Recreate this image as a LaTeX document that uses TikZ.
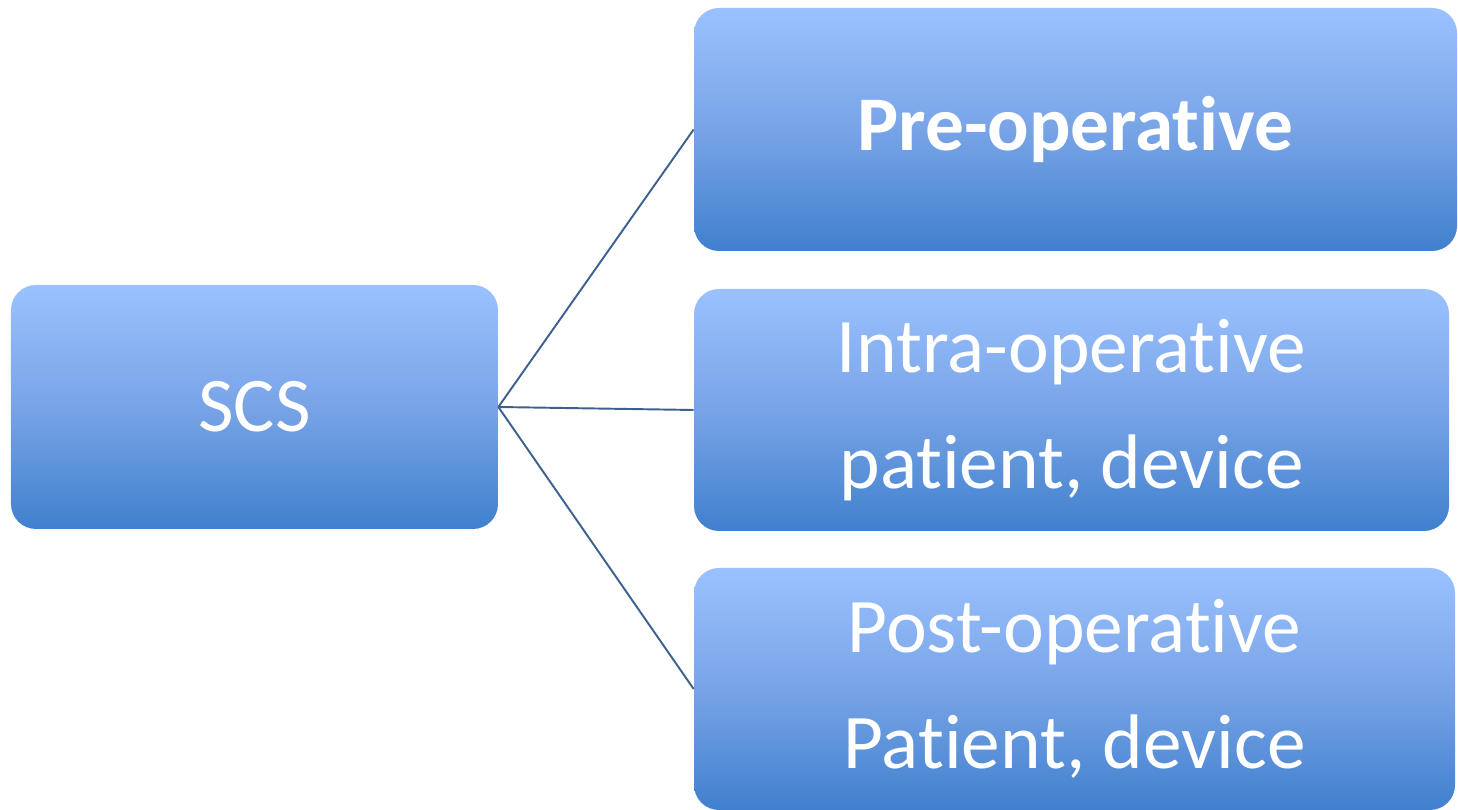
\documentclass[tikz,border=0pt]{standalone}
\usepackage{fontspec}
\setmainfont{Carlito}[Ligatures=NoCommon]
\usepackage{tikz}
\usetikzlibrary{positioning,calc}

\definecolor{boxtop}{RGB}{155,193,255}
\definecolor{boxmid}{RGB}{120,164,230}
\definecolor{boxbottom}{RGB}{64,128,206}
\definecolor{linkblue}{RGB}{62,96,145}

\begin{document}
\begin{tikzpicture}[
    phase/.style={rectangle, rounded corners=0.5cm, top color=boxtop, bottom color=boxbottom,
        middle color=boxmid, text=white, align=center, inner sep=0pt, font=\fontsize{44}{66}\selectfont},
    link/.style={draw, color=linkblue, line width=1.1pt}
]

\useasboundingbox (0,0) rectangle (29.16,16.2);

% Define node positions
\node[phase, minimum width=9.74cm, minimum height=4.88cm] (scs) at (5.09, 8.06) {SCS};
\node[phase, minimum width=15.26cm, minimum height=4.86cm] (pre) at (21.51, 13.61) {\bfseries Pre-operative};
\node[phase, minimum width=15.10cm, minimum height=4.84cm] (intra) at (21.43, 8.0) {Intra-operative\\patient, device};
\node[phase, minimum width=15.22cm, minimum height=4.84cm] (post) at (21.49, 2.42) {Post-operative\\Patient, device};

% Connect root to phases
\draw[link] (scs.east) -- (pre.west);
\draw[link] (scs.east) -- (intra.west);
\draw[link] (scs.east) -- (post.west);

\end{tikzpicture}
\end{document}
